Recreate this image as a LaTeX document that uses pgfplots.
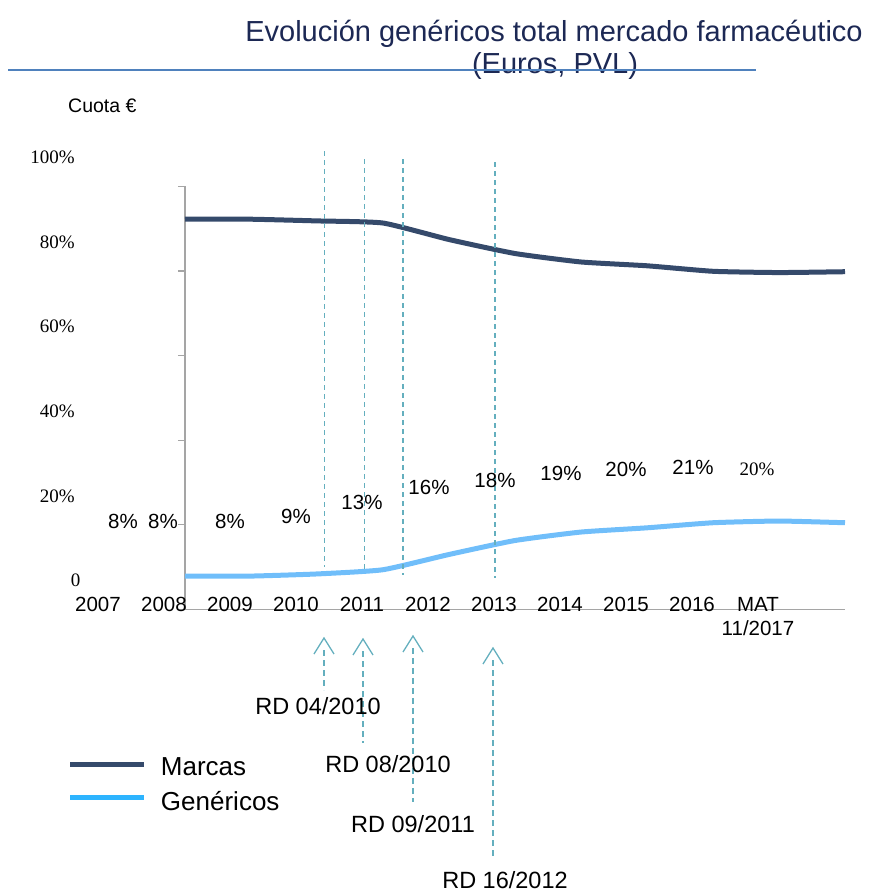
\documentclass[border=0pt]{standalone}
\usepackage{pgfplots}
\usepackage{pgfplotstable}
\pgfplotsset{compat=1.18}
\usepackage{fontspec}
\setmainfont{Liberation Sans}
\newfontfamily\serif{Liberation Serif}
\definecolor{marcas}{RGB}{53,74,107}
\definecolor{genericos}{RGB}{112,190,250}
\definecolor{genleg}{RGB}{45,180,255}
\definecolor{dashc}{RGB}{100,175,190}
\definecolor{titlec}{RGB}{28,40,84}
\definecolor{rulec}{RGB}{79,129,189}
\definecolor{axisgray}{RGB}{165,165,165}

\pgfplotstableread{
x marcas genericos
0 92.2 7.9
1 92.2 7.9
2 91.8 8.4
3 91.3 9.4
4 87.4 13.0
5 84.1 16.3
6 82.1 18.3
7 81.2 19.3
8 79.9 20.5
9 79.6 20.9
10 79.8 20.5
}\datatable

\newcommand{\fs}[1]{\fontsize{#1pt}{#1pt}\selectfont}

\begin{document}
\begin{tikzpicture}
\useasboundingbox (0pt,0pt) rectangle (868pt,-893pt);

% title
\node[anchor=base, inner sep=0pt, text=titlec, font=\fs{29}] at (554pt,-42pt) {Evolución genéricos total mercado farmacéutico};
\node[anchor=base, inner sep=0pt, text=titlec, font=\fs{29}] at (555pt,-74pt) {(Euros, PVL)};
\draw[rulec, line width=2pt] (8pt,-70pt) -- (756pt,-70pt);
\node[anchor=base west, inner sep=0pt, font=\fs{19.5}] at (68pt,-113pt) {Cuota €};

\begin{axis}[
  at={(185pt,-609.5pt)}, anchor=south west,
  scale only axis, width=660pt, height=423.3pt,
  xmin=0, xmax=10, ymin=0, ymax=100,
  clip=false,
  axis x line=bottom, axis y line=left,
  axis line style={-, axisgray, line width=1.3pt},
  tick align=outside,
  major tick length=7pt,
  ytick={0,20,40,60,80,100},
  yticklabels={0\kern-5.5pt,20\%,40\%,60\%,80\%,100\%},
  ytick style={axisgray, line width=1.3pt},
  yticklabel style={anchor=east, inner sep=0pt, xshift=-103pt, yshift=29pt, font=\serif\fs{19}},
  xtick={0,1,2,3,4,5,6,7,8,9,10},
  xticklabels={2007,2008,2009,2010,2011,2012,2013,2014,2015,2016,MAT},
  xtick style={draw=none},
  xticklabel style={anchor=base, inner sep=0pt, xshift=-87pt, yshift=5.5pt, font=\fs{20.5}},
  legend style={at={(axis description cs:-0.1773,-0.3508)}, anchor=north west, draw=none, fill=none,
    inner sep=0pt, outer sep=0pt, row sep=13.5pt, font=\fs{26},
    nodes={inner sep=0pt}},
  legend cell align=left,
  legend image code/.code={\draw[#1] (0pt,0.35em) -- (74pt,0.35em); \path (88pt,0pt);},
]
\addplot[marcas, line width=5pt, smooth, tension=0.3, forget plot] table[x=x, y=marcas]{\datatable};
\addplot[genericos, line width=5pt, smooth, tension=0.3, forget plot] table[x=x, y=genericos]{\datatable};
\addlegendimage{marcas, line width=5pt}
\addlegendentry{Marcas}
\addlegendimage{genleg, line width=5pt}
\addlegendentry{Genéricos}

\draw[dashc, line width=1.2pt, dash pattern=on 5pt off 4pt] (axis cs:2.111,108.3) -- (axis cs:2.111,10.0);
\draw[dashc, line width=1.2pt, dash pattern=on 5pt off 4pt] (axis cs:2.723,106.4) -- (axis cs:2.723,8.6);
\draw[dashc, line width=1.2pt, dash pattern=on 5pt off 4pt] (axis cs:3.303,106.4) -- (axis cs:3.303,8.1);
\draw[dashc, line width=1.2pt, dash pattern=on 5pt off 4pt] (axis cs:4.697,105.7) -- (axis cs:4.697,7.4);
\end{axis}

% second line of last tick label
\node[anchor=center, inner sep=0pt, font=\fs{20.5}] at (758pt,-628pt) {11/2017};

% share labels
\begin{scope}[every node/.style={anchor=center, inner sep=0pt, font=\fs{20.5}}]
\node at (123pt,-521pt) {8\%};
\node at (163pt,-521pt) {8\%};
\node at (230pt,-521pt) {8\%};
\node at (296pt,-516pt) {9\%};
\node at (362pt,-502pt) {13\%};
\node at (429pt,-487pt) {16\%};
\node at (495pt,-480pt) {18\%};
\node at (561pt,-473pt) {19\%};
\node at (626pt,-469pt) {20\%};
\node at (693pt,-467pt) {21\%};
\node[font=\serif\fs{19}] at (757pt,-469pt) {20\%};
\end{scope}

% arrows
\foreach \x/\ya/\yb in {324/638/690, 363/639/743, 413/636/802, 493/648/858}{
  \draw[dashc, line width=1.3pt] (\x pt,-\ya pt) ++(-10pt,-16pt) -- ++(10pt,16pt) -- ++(10pt,-16pt);
  \draw[dashc, line width=1.3pt, dash pattern=on 6pt off 4pt] (\x pt,-\ya pt) ++(0pt,-12pt) -- (\x pt,-\yb pt);
}
\begin{scope}[every node/.style={anchor=center, inner sep=0pt, font=\fs{23.5}}]
\node at (318pt,-706pt) {RD 04/2010};
\node at (388pt,-764pt) {RD 08/2010};
\node at (413pt,-824pt) {RD 09/2011};
\node at (505pt,-880pt) {RD 16/2012};
\end{scope}
\end{tikzpicture}
\end{document}
